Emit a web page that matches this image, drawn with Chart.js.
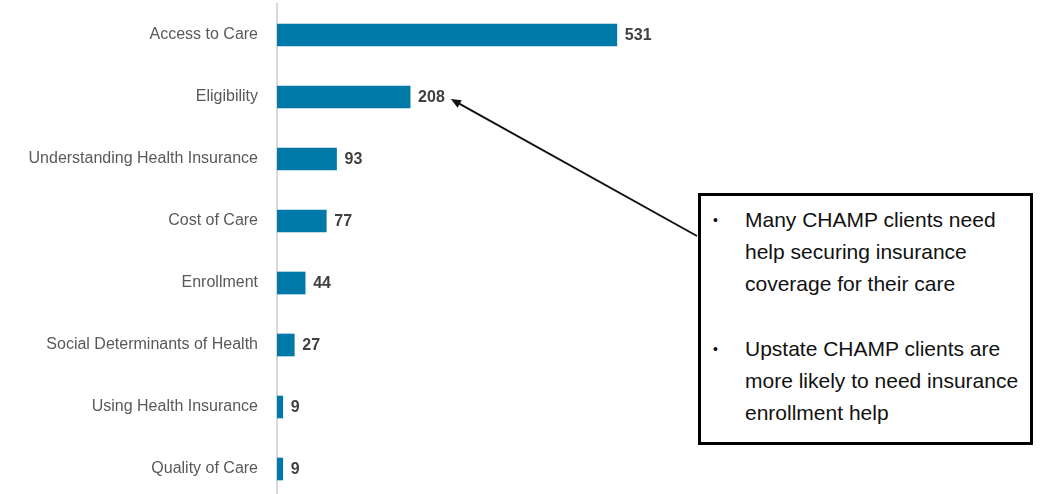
<!DOCTYPE html>
<html>
<head>
<meta charset="utf-8">
<script src="https://cdn.jsdelivr.net/npm/chart.js@4.4.1/dist/chart.umd.min.js"></script>
<style>
    body { margin: 0; background: #fff; overflow: hidden; }
    #wrap { position: relative; width: 1043px; height: 494px; overflow: hidden; }
    #issuesChart { position: absolute; left: 0; top: 0; }
    .callout {
        position: absolute; left: 698px; top: 193px; width: 329px; height: 238px;
        border: 3px solid #000; background: #fff;
        font-family: "Liberation Sans", Arial, sans-serif; font-size: 21px; line-height: 32px; color: #111;
        padding-top: 8px; box-sizing: content-box;
    }
    .callout .item { display: flex; }
    .callout .item + .item { margin-top: 33px; }
    .callout .dot { width: 32px; padding-left: 12px; flex: none; text-align: left; font-size: 14px; }
    .callout .txt { flex: 1; }
</style>
</head>
<body>
<div id="wrap">
    <canvas id="issuesChart" width="1043" height="500"></canvas>
    <div class="callout" id="callout">
        <div class="item"><span class="dot">•</span><span class="txt">Many CHAMP clients need help securing insurance coverage for their care</span></div>
        <div class="item"><span class="dot">•</span><span class="txt">Upstate CHAMP clients are more likely to need insurance enrollment help</span></div>
    </div>
</div>
<script>
const categories = [
    'Access to Care', 'Eligibility', 'Understanding Health Insurance', 'Cost of Care',
    'Enrollment', 'Social Determinants of Health', 'Using Health Insurance', 'Quality of Care'
];
const counts = [531, 208, 93, 77, 44, 27, 9, 9];

const labelFont = '"Liberation Sans", Arial, sans-serif';

// number at the end of each bar
const valueLabels = {
    id: 'valueLabels',
    afterDatasetsDraw(chart) {
        const ctx = chart.ctx;
        const meta = chart.getDatasetMeta(0);
        ctx.save();
        ctx.font = 'bold 16px ' + labelFont;
        ctx.fillStyle = '#404040';
        ctx.textBaseline = 'middle';
        ctx.textAlign = 'left';
        meta.data.forEach((bar, i) => {
            ctx.fillText(counts[i], bar.x + 8, bar.y + 1);
        });
        ctx.restore();
    }
};

// arrow from the callout box to the Eligibility label
const calloutArrow = {
    id: 'calloutArrow',
    afterDraw(chart) {
        const ctx = chart.ctx;
        const bar = chart.getDatasetMeta(0).data[1];
        ctx.save();
        ctx.font = 'bold 16px ' + labelFont;
        const w = ctx.measureText(String(counts[1])).width;
        const tipX = bar.x + 8 + w + 6, tipY = bar.y + 2;
        const tailX = 697, tailY = 236;
        const ang = Math.atan2(tipY - tailY, tipX - tailX);
        ctx.strokeStyle = '#111';
        ctx.fillStyle = '#111';
        ctx.lineWidth = 2;
        ctx.beginPath();
        ctx.moveTo(tailX, tailY);
        ctx.lineTo(tipX - 6 * Math.cos(ang), tipY - 6 * Math.sin(ang));
        ctx.stroke();
        ctx.beginPath();
        ctx.moveTo(tipX, tipY);
        ctx.lineTo(tipX - 11 * Math.cos(ang - 0.4), tipY - 11 * Math.sin(ang - 0.4));
        ctx.lineTo(tipX - 11 * Math.cos(ang + 0.4), tipY - 11 * Math.sin(ang + 0.4));
        ctx.closePath();
        ctx.fill();
        ctx.restore();
    }
};

const ctx = document.getElementById('issuesChart').getContext('2d');
const issuesChart = new Chart(ctx, {
    type: 'bar',
    data: {
        labels: categories,
        datasets: [{
            data: counts,
            backgroundColor: '#0079A8',
            barThickness: 22
        }]
    },
    options: {
        indexAxis: 'y',
        responsive: false,
        animation: false,
        layout: { padding: { top: 4, right: 126, bottom: 0, left: 0 } },
        plugins: {
            legend: { display: false },
            tooltip: { enabled: false }
        },
        scales: {
            x: {
                display: false,
                min: 0,
                max: 1000
            },
            y: {
                afterFit(scale) {
                    scale.width = 277;
                    scale.paddingTop = 0;
                    scale.paddingBottom = 0;
                },
                grid: { display: false, drawTicks: false },
                border: { display: true, color: '#D9D9D9', width: 2 },
                ticks: {
                    padding: 19,
                    color: '#595959',
                    font: { family: labelFont, size: 16 }
                }
            }
        }
    },
    plugins: [valueLabels, calloutArrow]
});
</script>
</body>
</html>
